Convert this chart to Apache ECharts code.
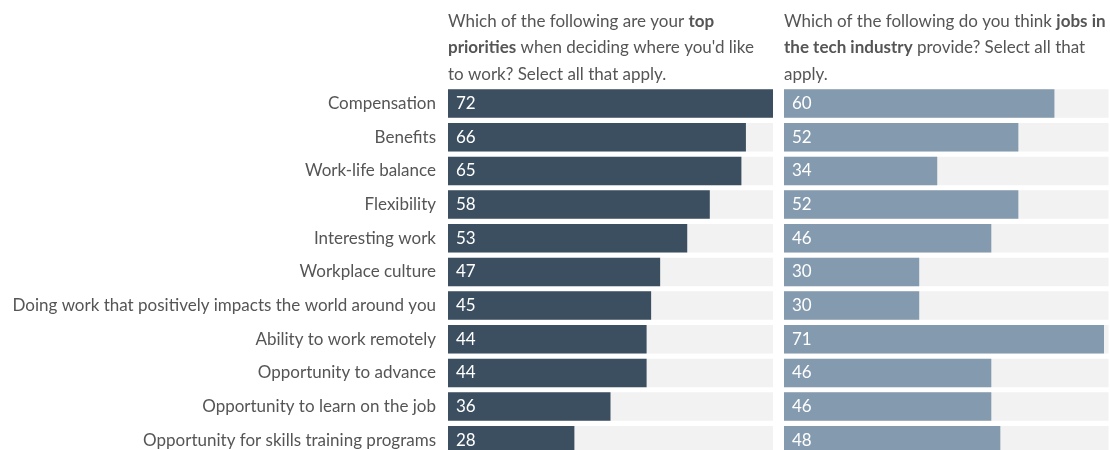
<!DOCTYPE html>
<html>
<head>
    <meta charset="utf-8">
    <title>Work priorities vs tech jobs</title>
    <script src="https://cdn.jsdelivr.net/npm/echarts@6/dist/echarts.min.js"></script>
    <style>
        html, body { margin: 0; padding: 0; background: #ffffff; }
        #chart { width: 1110px; height: 450px; }
    </style>
</head>
<body>
<div id="chart"></div>
<script>
    // 数据
    var categories = [
        'Compensation',
        'Benefits',
        'Work-life balance',
        'Flexibility',
        'Interesting work',
        'Workplace culture',
        'Doing work that positively impacts the world around you',
        'Ability to work remotely',
        'Opportunity to advance',
        'Opportunity to learn on the job',
        'Opportunity for skills training programs'
    ];
    var topPriorities = [72, 66, 65, 58, 53, 47, 45, 44, 44, 36, 28];
    var techJobsProvide = [60, 52, 34, 52, 46, 30, 30, 71, 46, 46, 48];
    var axisMax = 72;

    var font = 'Lato';
    var gridTop = 86.7, gridHeight = 370.4;

    var chart = echarts.init(document.getElementById('chart'));

    function panelTitle(text, left) {
        return {
            text: text,
            left: left,
            top: 8,
            padding: 0,
            textStyle: {
                fontFamily: font,
                fontSize: 17,
                fontWeight: 'normal',
                color: '#555555',
                lineHeight: 26.5,
                rich: {
                    b: { fontFamily: font, fontSize: 17, fontWeight: 'bold', color: '#555555', lineHeight: 26.5 }
                }
            }
        };
    }

    function barSeries(idx, data, color) {
        return {
            type: 'bar',
            xAxisIndex: idx,
            yAxisIndex: idx,
            data: data,
            barWidth: 28.5,
            itemStyle: { color: color },
            showBackground: true,
            backgroundStyle: { color: '#f2f2f2' },
            label: {
                show: true,
                position: 'insideLeft',
                distance: 8,
                color: '#ffffff',
                fontFamily: font,
                fontSize: 17
            },
            silent: true
        };
    }

    var option = {
        animation: false,
        title: [
            panelTitle('Which of the following are your {b|top}\n{b|priorities} when deciding where you\'d like\nto work? Select all that apply.', 448),
            panelTitle('Which of the following do you think {b|jobs in}\n{b|the tech industry} provide? Select all that\napply.', 784)
        ],
        grid: [
            { left: 448, top: gridTop, width: 325, height: gridHeight, outerBoundsMode: 'none' },
            { left: 784, top: gridTop, width: 324.5, height: gridHeight, outerBoundsMode: 'none' }
        ],
        xAxis: [
            { gridIndex: 0, type: 'value', min: 0, max: axisMax, show: false },
            { gridIndex: 1, type: 'value', min: 0, max: axisMax, show: false }
        ],
        yAxis: [
            {
                gridIndex: 0, type: 'category', data: categories, inverse: true,
                axisLine: { show: false }, axisTick: { show: false },
                axisLabel: { margin: 12, color: '#555555', fontFamily: font, fontSize: 17 }
            },
            {
                gridIndex: 1, type: 'category', data: categories, inverse: true,
                axisLine: { show: false }, axisTick: { show: false },
                axisLabel: { show: false }
            }
        ],
        series: [
            barSeries(0, topPriorities, '#3c4f60'),
            barSeries(1, techJobsProvide, '#849aae')
        ]
    };
    chart.setOption(option);
</script>
</body>
</html>
